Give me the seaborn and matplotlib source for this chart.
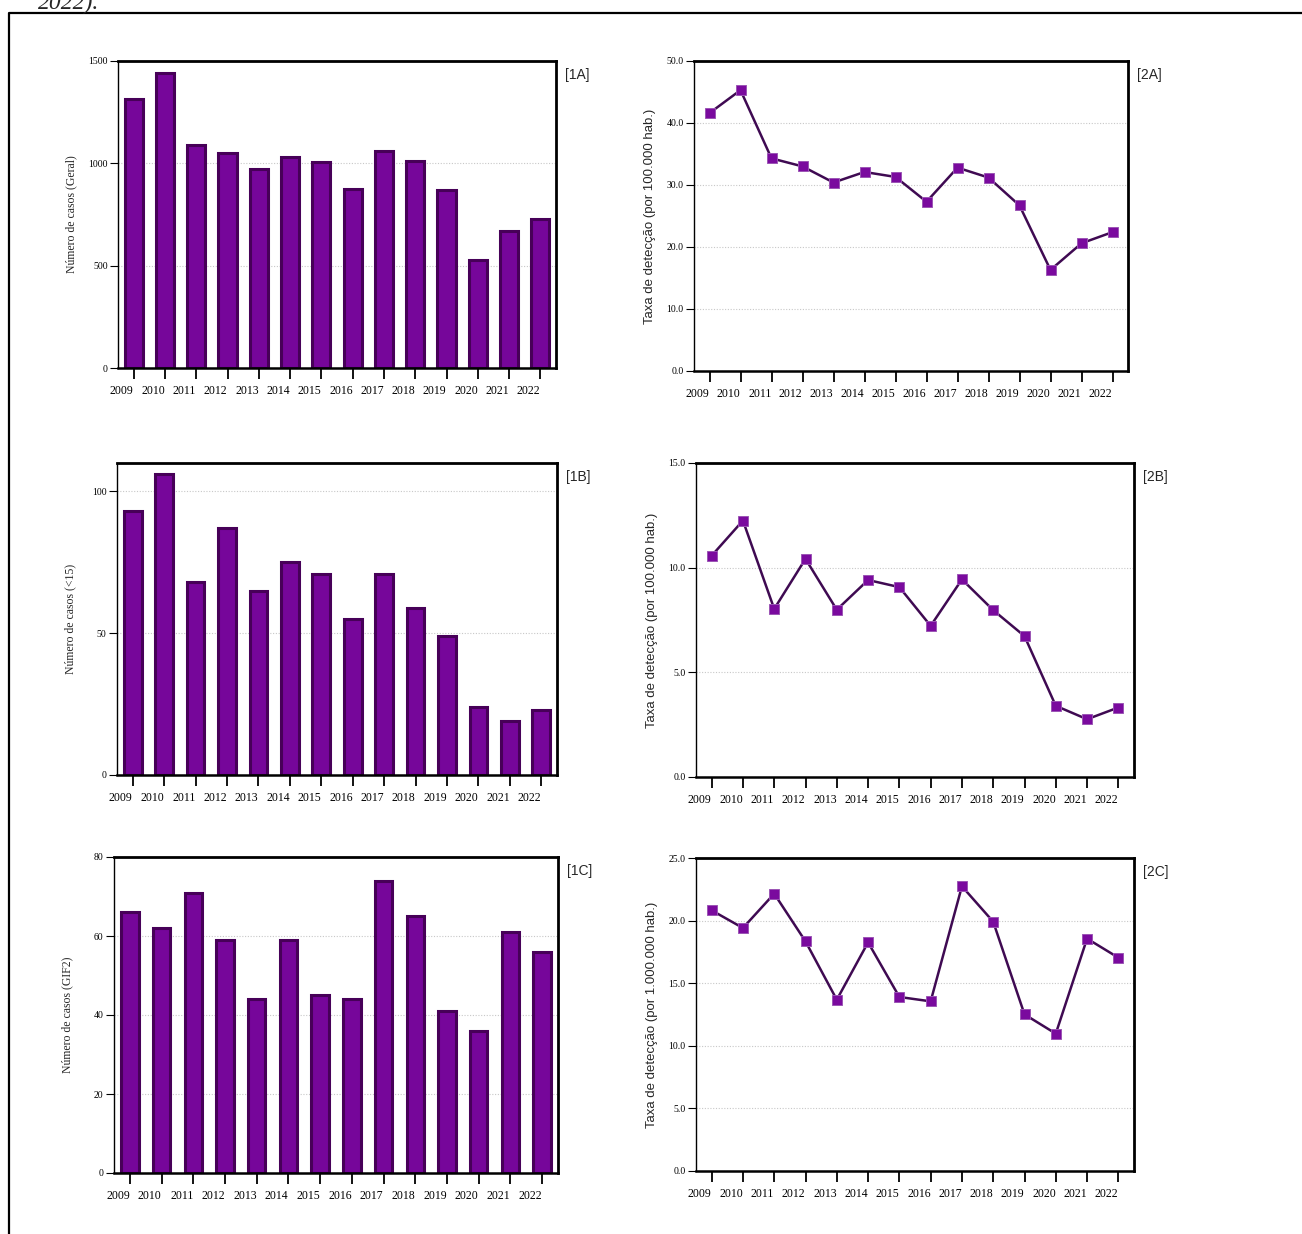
#!/usr/bin/env python3

import pandas as pd
import seaborn as sns
import matplotlib.pyplot as plt
from matplotlib.lines import Line2D
from matplotlib.ticker import FormatStrFormatter

sns.set_theme(style="white")
plt.rcParams["font.family"] = ["Liberation Serif", "DejaVu Serif"]

W, H = 1302, 1234

years = [2009, 2010, 2011, 2012, 2013, 2014, 2015,
         2016, 2017, 2018, 2019, 2020, 2021, 2022]

casos_geral = [1313, 1442, 1088, 1049, 971, 1030, 1005, 877, 1059, 1010, 868, 528, 667, 729]
casos_menor15 = [93, 106, 68, 87, 65, 75, 71, 55, 71, 59, 49, 24, 19, 23]
casos_gif2 = [66, 62, 71, 59, 44, 59, 45, 44, 74, 65, 41, 36, 61, 56]

taxa_geral = [41.6, 45.3, 34.3, 33.0, 30.4, 32.1, 31.3, 27.3, 32.8, 31.2, 26.7, 16.3, 20.6, 22.4]
taxa_menor15 = [10.57, 12.25, 8.03, 10.42, 7.99, 9.41, 9.07, 7.22, 9.44, 7.97, 6.73, 3.40, 2.76, 3.32]
taxa_gif2 = [20.82, 19.41, 22.15, 18.34, 13.68, 18.26, 13.90, 13.55, 22.74, 19.91, 12.51, 10.97, 18.56, 17.04]

BAR = "#76069a"
EDGE = "#470058"
LINE = "#3f0a52"
MARK = "#7a0a9e"

fig = plt.figure(figsize=(W / 100, H / 100), dpi=100)


def rect(l, r, t, b):
    return [l / W, 1 - b / H, (r - l) / W, (b - t) / H]


def style(ax, box, ylim, yticks, fmt, ylabel, sans, tag):
    l, r, t, b = box
    ax.set_ylim(*ylim)
    ax.set_yticks(yticks)
    ax.yaxis.set_major_formatter(FormatStrFormatter(fmt))
    for side, lw in [("left", 1.0), ("bottom", 1.8), ("top", 2.0), ("right", 2.0)]:
        ax.spines[side].set_visible(True)
        ax.spines[side].set_color("black")
        ax.spines[side].set_linewidth(lw)
    ax.tick_params(axis="y", direction="out", length=6, width=0.8,
                   labelsize=7, pad=1.5, left=True, colors="black")
    ax.tick_params(axis="x", direction="out", length=8, width=1.3,
                   labelsize=8.5, pad=4, bottom=True, colors="black")
    for lab in ax.get_xticklabels():
        lab.set_ha("right")
    ax.yaxis.grid(True, linestyle=(0, (1, 1.5)), color="#c8c8c8", linewidth=0.8)
    ax.xaxis.grid(False)
    ax.set_axisbelow(True)
    ax.set_xlabel("")
    if sans:
        ax.set_ylabel(ylabel, fontsize=9.5, family="Liberation Sans")
        ax.yaxis.set_label_coords(-38 / (r - l), 0.5)
    else:
        ax.set_ylabel(ylabel, fontsize=8.5)
        ax.yaxis.set_label_coords(-41 / (r - l), 0.5)
    fig.text((r + 9) / W, 1 - (t + 14) / H, tag, fontsize=10,
             family="Liberation Sans", ha="left", va="center")


def bar_panel(box, values, ylim, yticks, ylabel, tag, width):
    ax = fig.add_axes(rect(*box))
    df = pd.DataFrame({"ano": years, "casos": values})
    sns.barplot(data=df, x="ano", y="casos", color=BAR, saturation=1,
                edgecolor=EDGE, linewidth=2.2, width=width, ax=ax)
    ax.set_xlim(-0.5, 13.5)
    style(ax, box, ylim, yticks, "%d", ylabel, False, tag)


def line_panel(box, values, ylim, yticks, ylabel, tag):
    ax = fig.add_axes(rect(*box))
    df = pd.DataFrame({"ano": years, "taxa": values})
    sns.lineplot(data=df, x="ano", y="taxa", color=LINE, linewidth=1.8,
                 marker="s", markersize=7.5, markerfacecolor=MARK,
                 markeredgecolor="#9b55b5", markeredgewidth=0.7,
                 errorbar=None, ax=ax)
    ax.set_xlim(years[0] - 0.5, years[-1] + 0.5)
    ax.set_xticks(years, labels=[str(y) for y in years])
    style(ax, box, ylim, yticks, "%.1f", ylabel, True, tag)


bar_panel((118, 556, 61, 368), casos_geral, (0, 1500), [0, 500, 1000, 1500],
          "Número de casos (Geral)", "[1A]", 0.58)
bar_panel((117, 557, 463, 775), casos_menor15, (0, 110), [0, 50, 100],
          "Número de casos (<15)", "[1B]", 0.56)
bar_panel((114, 558, 857, 1173), casos_gif2, (0, 80), [0, 20, 40, 60, 80],
          "Número de casos (GIF2)", "[1C]", 0.55)

line_panel((694, 1128, 61, 371), taxa_geral, (0, 50), [0, 10, 20, 30, 40, 50],
           "Taxa de detecção (por 100.000 hab.)", "[2A]")
line_panel((696, 1134, 463, 777), taxa_menor15, (0, 15), [0, 5, 10, 15],
           "Taxa de detecção (por 100.000 hab.)", "[2B]")
line_panel((696, 1134, 858, 1171), taxa_gif2, (0, 25), [0, 5, 10, 15, 20, 25],
           "Taxa de detecção (por 1.000.000 hab.)", "[2C]")

# page frame and the cut-off caption above it
fig.add_artist(Line2D([9 / W, 9 / W, 1], [0, 1 - 13 / H, 1 - 13 / H],
                      transform=fig.transFigure, color="black", linewidth=1.6))
fig.text(38 / W, 1 - 9 / H, "2022).", fontsize=17, style="italic",
         ha="left", va="baseline")

plt.savefig("out.png", dpi=100)
